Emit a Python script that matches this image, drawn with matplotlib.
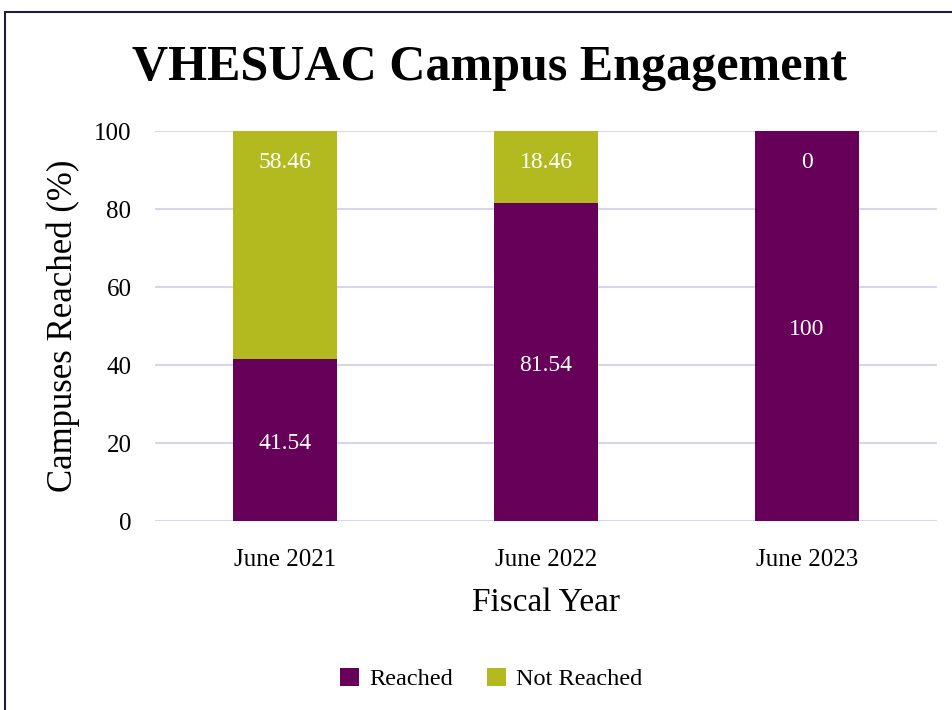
import matplotlib.pyplot as plt
from matplotlib.patches import Rectangle
import numpy as np

years = ['June 2021', 'June 2022', 'June 2023']
reached = [41.54, 81.54, 100]
not_reached = [58.46, 18.46, 0]

purple = '#660058'
olive = '#B3BA1F'
grid_col = '#D9D5E8'

plt.rcParams['font.family'] = ['Liberation Serif', 'DejaVu Serif']

fig = plt.figure(figsize=(9.53, 7.10), dpi=100)
ax = fig.add_axes([155/953, 1-521/710, 782/953, 390/710])

x = np.arange(len(years))
b1 = ax.bar(x, reached, width=0.4, color=purple, label='Reached', zorder=3)
b2 = ax.bar(x, not_reached, width=0.4, bottom=reached, color=olive, label='Not Reached', zorder=3)

# labels in the bars
for i in range(len(years)):
    ax.text(x[i], reached[i] / 2 - 1, f'{reached[i]:g}', ha='center', va='center',
            color='white', fontsize=17, zorder=4)
    ax.text(x[i], 92, f'{not_reached[i]:g}',
            ha='center', va='center', color='white', fontsize=17, zorder=4)

ax.set_xlim(-0.5, 2.5)
ax.set_ylim(0, 100)
ax.set_yticks([0, 20, 40, 60, 80, 100])
ax.set_xticks(x)
ax.set_xticklabels(years)
ax.tick_params(axis='both', length=0, labelsize=18, colors='black')
ax.tick_params(axis='x', pad=20)
ax.tick_params(axis='y', pad=17)
ax.yaxis.grid(True, color=grid_col, linewidth=1.5, zorder=0)
for s in ax.spines.values():
    s.set_visible(False)

ax.set_ylabel('Campuses Reached (%)', fontsize=25, labelpad=10)
ax.set_xlabel('Fiscal Year', fontsize=24, labelpad=12)

fig.text(490/953, 1-68/710, 'VHESUAC Campus Engagement', ha='center', va='center',
         fontsize=36, fontweight='bold')

fig.legend(handles=[b1, b2], loc='center', bbox_to_anchor=(491/953, 1-679/710),
           ncol=2, frameon=False, fontsize=17.5, handlelength=0.8, handleheight=0.8,
           columnspacing=1.4, handletextpad=0.4)

# outer frame
fig.patches.append(Rectangle((5/953, -0.1), 1.2, 1-12/710+0.1, transform=fig.transFigure,
                             fill=False, edgecolor='#1f1f3a', linewidth=1.5))

fig.savefig('out.png', dpi=100)
